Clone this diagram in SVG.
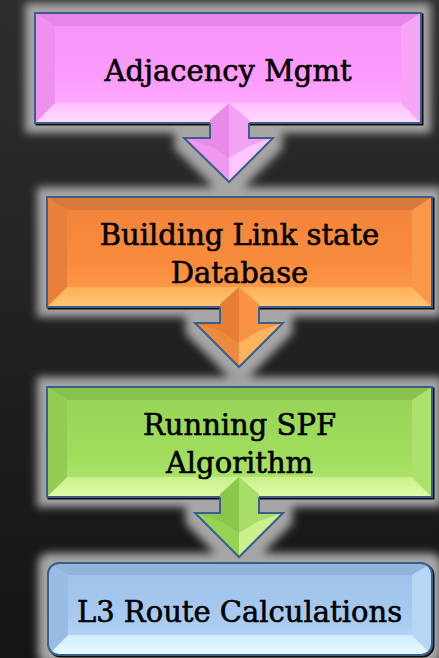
<svg xmlns="http://www.w3.org/2000/svg" width="439" height="658" viewBox="0 0 439 658">
<defs>
<linearGradient id="bg" x1="0" y1="0" x2="0" y2="1">
<stop offset="0" stop-color="#2e2e2e"/><stop offset="1" stop-color="#141414"/>
</linearGradient>
<filter id="glow" x="-15%" y="-15%" width="130%" height="130%">
<feMorphology in="SourceAlpha" operator="dilate" radius="10" result="d"/>
<feGaussianBlur in="d" stdDeviation="4.5" result="b"/>
<feFlood flood-color="#a6a6a6"/>
<feComposite in2="b" operator="in"/>
</filter>
<linearGradient id="pinkC" x1="0" y1="0" x2="0" y2="1"><stop offset="0" stop-color="#f693f6"/><stop offset="0.6" stop-color="#fd9cfd"/><stop offset="1" stop-color="#ffb4ff"/></linearGradient>
<linearGradient id="pinkB" x1="0" y1="0" x2="0" y2="1"><stop offset="0" stop-color="#ffc0ff"/><stop offset="1" stop-color="#ffdcff"/></linearGradient>
<linearGradient id="orC" x1="0" y1="0" x2="0" y2="1"><stop offset="0" stop-color="#f0833a"/><stop offset="0.6" stop-color="#f98c3c"/><stop offset="1" stop-color="#fca04c"/></linearGradient>
<linearGradient id="orB" x1="0" y1="0" x2="0" y2="1"><stop offset="0" stop-color="#ffae58"/><stop offset="1" stop-color="#ffc878"/></linearGradient>
<linearGradient id="grC" x1="0" y1="0" x2="0" y2="1"><stop offset="0" stop-color="#96d256"/><stop offset="0.6" stop-color="#a0dc5c"/><stop offset="1" stop-color="#b4e872"/></linearGradient>
<linearGradient id="grB" x1="0" y1="0" x2="0" y2="1"><stop offset="0" stop-color="#c8f08a"/><stop offset="1" stop-color="#e0fca8"/></linearGradient>
<linearGradient id="blC" x1="0" y1="0" x2="0" y2="1"><stop offset="0" stop-color="#9cc0e8"/><stop offset="0.6" stop-color="#a8caf0"/><stop offset="1" stop-color="#bcdcf8"/></linearGradient>
<linearGradient id="blB" x1="0" y1="0" x2="0" y2="1"><stop offset="0" stop-color="#d0ecff"/><stop offset="1" stop-color="#eafaff"/></linearGradient>
<clipPath id="clip4"><rect x="48" y="563" width="384" height="92" rx="11"/></clipPath>
</defs>
<style>
.border{fill:none;stroke:#3b5e8c;stroke-width:2}
.shadow{fill:none;stroke:#0c0c0c;stroke-width:2}
.aout{fill:none;stroke:#3b5e8c;stroke-width:2;stroke-linejoin:miter}
.lbl{font-family:"DejaVu Serif","Liberation Serif",serif;font-size:29px;fill:#000;stroke:#000;stroke-width:0.6px;text-anchor:middle}
</style>
<rect width="439" height="658" fill="url(#bg)"/>
<g id="glows" filter="url(#glow)">
<rect x="35" y="13" width="386" height="110"/>
<rect x="47" y="197" width="385" height="110"/>
<rect x="47" y="387" width="385" height="110"/>
<rect x="48" y="563" width="384" height="92" rx="11"/>
<polygon points="210,122 210,138 184,138 229,182 273,138 249,138 249,122"/>
<polygon points="220,306 220,323 195,323 239,367 283,323 259,323 259,306"/>
<polygon points="220,496 220,513 195,513 239,557 283,513 259,513 259,496"/>
</g>
<g id="node1">
<rect x="36.5" y="14.5" width="386" height="110" class="shadow"/>
<rect x="35" y="13" width="386" height="110" fill="url(#pinkC)"/>
<polygon points="35,13 421,13 401,26 55,26" fill="#e686e8"/>
<polygon points="35,123 421,123 401,103 55,103" fill="url(#pinkB)"/>
<polygon points="35,13 55,26 55,103 35,123" fill="#ef8ff0"/>
<polygon points="421,13 401,26 401,103 421,123" fill="#f7a6f7"/>
<rect x="35" y="13" width="386" height="110" class="border"/>
<text x="228" y="81" class="lbl">Adjacency Mgmt</text>
</g>
<g id="node2">
<rect x="48.5" y="198.5" width="385" height="110" class="shadow"/>
<rect x="47" y="197" width="385" height="110" fill="url(#orC)"/>
<polygon points="47,197 432,197 412,210 67,210" fill="#d97a3c"/>
<polygon points="47,307 432,307 412,287 67,287" fill="url(#orB)"/>
<polygon points="47,197 67,210 67,287 47,307" fill="#e8803a"/>
<polygon points="432,197 412,210 412,287 432,307" fill="#fb9748"/>
<rect x="47" y="197" width="385" height="110" class="border"/>
<text x="239.5" y="245" class="lbl">Building Link state</text>
<text x="239.5" y="283" class="lbl">Database</text>
</g>
<g id="node3">
<rect x="48.5" y="388.5" width="385" height="110" class="shadow"/>
<rect x="47" y="387" width="385" height="110" fill="url(#grC)"/>
<polygon points="47,387 432,387 412,400 67,400" fill="#8ac24e"/>
<polygon points="47,497 432,497 412,477 67,477" fill="url(#grB)"/>
<polygon points="47,387 67,400 67,477 47,497" fill="#92cc52"/>
<polygon points="432,387 412,400 412,477 432,497" fill="#ace26c"/>
<rect x="47" y="387" width="385" height="110" class="border"/>
<text x="239.5" y="435" class="lbl">Running SPF</text>
<text x="239.5" y="473" class="lbl">Algorithm</text>
</g>
<g id="node4">
<rect x="49.5" y="564.5" width="384" height="92" rx="11" class="shadow"/>
<g clip-path="url(#clip4)">
<rect x="48" y="563" width="384" height="92" fill="url(#blC)"/>
<polygon points="48,563 432,563 412,575 68,575" fill="#90b4dc"/>
<polygon points="48,655 432,655 412,635 68,635" fill="url(#blB)"/>
<polygon points="48,563 68,575 68,635 48,655" fill="#98bce4"/>
<polygon points="432,563 412,575 412,635 432,655" fill="#b6d6f6"/>
</g>
<rect x="48" y="563" width="384" height="92" rx="11" class="border"/>
<text x="239.5" y="622" class="lbl">L3 Route Calculations</text>
</g>
<g id="connectors">
<g id="arrow1">
<polygon points="229,103 210,120 210,138 184,138 229,182" fill="#e88ae8"/>
<polygon points="229,103 249,120 249,138 273,138 229,182" fill="#f4a2f4"/>
<polygon points="184,138 210,146 229,158 229,182" fill="#f097f0"/>
<polygon points="229,158 249,146 273,138 229,182" fill="#ffc6ff"/>
<polyline points="210,123 210,138 184,138 229,182 273,138 249,138 249,123" class="aout"/>
</g>
<g id="arrow2">
<polygon points="239,287 220,304 220,323 195,323 239,367" fill="#e67e36"/>
<polygon points="239,287 259,304 259,323 283,323 239,367" fill="#f99446"/>
<polygon points="195,323 220,331 239,343 239,367" fill="#ee8a3e"/>
<polygon points="239,343 259,331 283,323 239,367" fill="#ffb460"/>
<polyline points="220,307 220,323 195,323 239,367 283,323 259,323 259,307" class="aout"/>
</g>
<g id="arrow3">
<polygon points="239,477 220,494 220,513 195,513 239,557" fill="#8ac84c"/>
<polygon points="239,477 259,494 259,513 283,513 239,557" fill="#a6de68"/>
<polygon points="195,513 220,521 239,533 239,557" fill="#96d458"/>
<polygon points="239,533 259,521 283,513 239,557" fill="#ccf090"/>
<polyline points="220,497 220,513 195,513 239,557 283,513 259,513 259,497" class="aout"/>
</g>
</g>
</svg>
